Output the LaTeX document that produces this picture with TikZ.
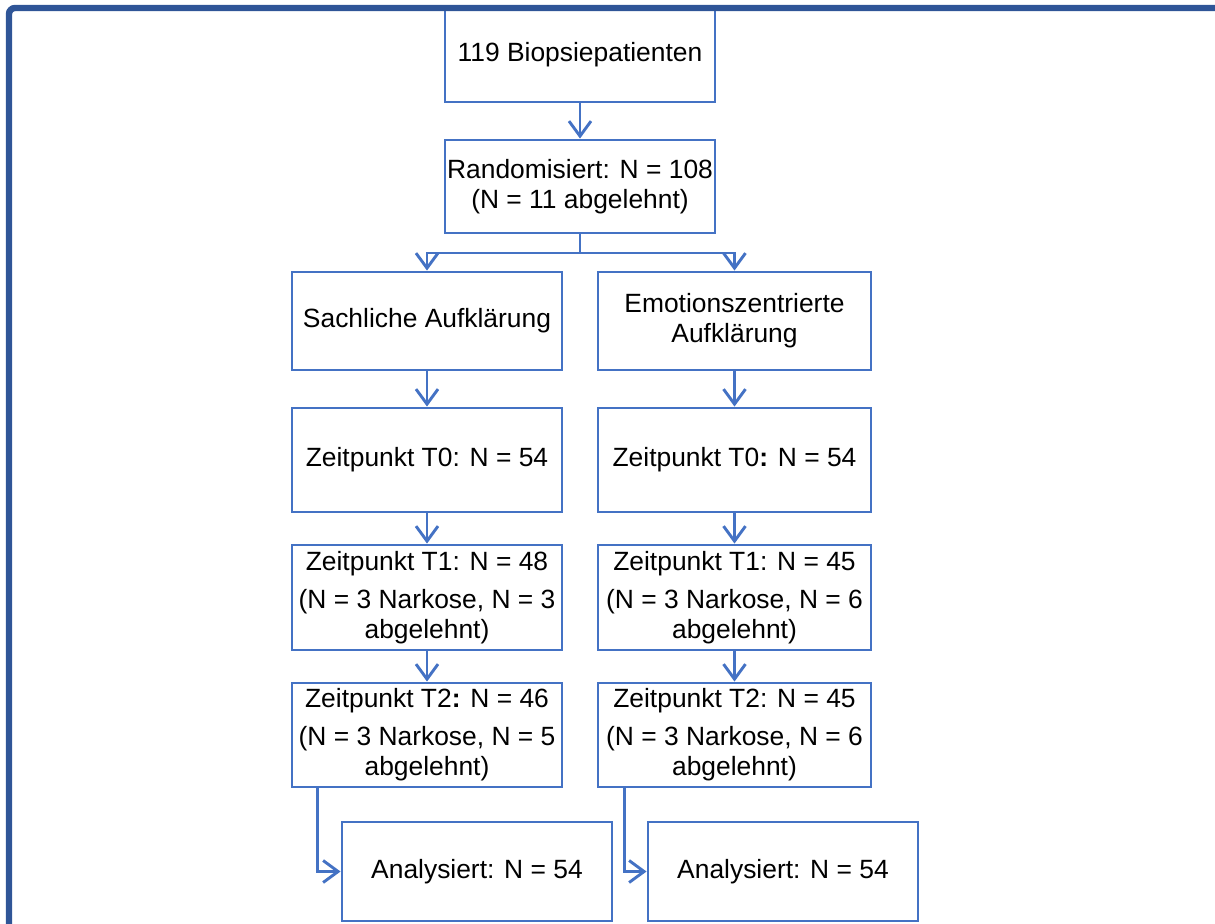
\documentclass[tikz,border=0pt]{standalone}
\usepackage{fontspec}
\setmainfont{Liberation Sans}
\usetikzlibrary{arrows.meta}
\definecolor{boxblue}{HTML}{4472C4}
\definecolor{frameblue}{HTML}{2F5597}
\tikzset{
  fbox/.style={draw=boxblue, line width=1.45pt, rectangle, align=center, inner sep=0pt,
    font=\fontsize{13.2}{15}\selectfont},
  colL/.style={fbox, minimum width=135pt},
  colR/.style={fbox, minimum width=136.5pt},
  conn/.style={draw=boxblue, line width=1.45pt},
  arr/.style={conn, -{Straight Barb[length=7.5pt,width=11pt,line width=1.45pt]}}
}
\begin{document}
\begin{tikzpicture}[x=0.5pt,y=-0.5pt]
\useasboundingbox (0,0) rectangle (1215,923);
% boxes
\node[fbox, minimum width=135pt, minimum height=47pt] (b1) at (580,55) {119 Biopsiepatienten};
\node[fbox, minimum width=135pt, minimum height=46.5pt] (b2) at (580,186.5) {Randomisiert: N = 108\\(N = 11 abgelehnt)};
\node[colL, minimum height=49pt] (L1) at (427,321) {Sachliche Aufklärung};
\node[colR, minimum height=49pt] (R1) at (734.5,321) {Emotionszentrierte\\Aufklärung};
\node[colL, minimum height=52pt] (L2) at (427,460) {Zeitpunkt T0: N = 54};
\node[colR, minimum height=52pt] (R2) at (734.5,460) {Zeitpunkt T0\textbf{:} N = 54};
\node[colL, minimum height=52.5pt] (L3) at (427,597.5) {Zeitpunkt T1: N = 48\\[4pt](N = 3 Narkose, N = 3\\abgelehnt)};
\node[colR, minimum height=52.5pt] (R3) at (734.5,597.5) {Zeitpunkt T1: N = 45\\[4pt](N = 3 Narkose, N = 6\\abgelehnt)};
\node[colL, minimum height=52pt] (L4) at (427,735) {Zeitpunkt T2\textbf{:} N = 46\\[4pt](N = 3 Narkose, N = 5\\abgelehnt)};
\node[colR, minimum height=52pt] (R4) at (734.5,735) {Zeitpunkt T2: N = 45\\[4pt](N = 3 Narkose, N = 6\\abgelehnt)};
\node[fbox, minimum width=135pt, minimum height=49.5pt] (LA) at (477,871.5) {Analysiert: N = 54};
\node[fbox, minimum width=135pt, minimum height=49.5pt] (RA) at (783,871.5) {Analysiert: N = 54};
% connectors
\draw[arr] (b1.south) -- (b2.north);
\coordinate (sp) at (580,253);
\draw[conn] (b2.south) -- (sp);
\draw[arr] (sp) -| (L1.north);
\draw[arr] (sp) -| (R1.north);
\draw[arr] (L1.south) -- (L2.north);
\draw[arr] (R1.south) -- (R2.north);
\draw[arr] (L2.south) -- (L3.north);
\draw[arr] (R2.south) -- (R3.north);
\draw[arr] (L3.south) -- (L4.north);
\draw[arr] (R3.south) -- (R4.north);
\draw[arr] ([xshift=13.5pt]L4.south west) |- (LA.west);
\draw[arr] ([xshift=14pt]R4.south west) |- (RA.west);
% frame
\draw[frameblue, line width=3.2pt, rounded corners=3pt] (9,930) -- (9,8) -- (1222,8);
\end{tikzpicture}
\end{document}
